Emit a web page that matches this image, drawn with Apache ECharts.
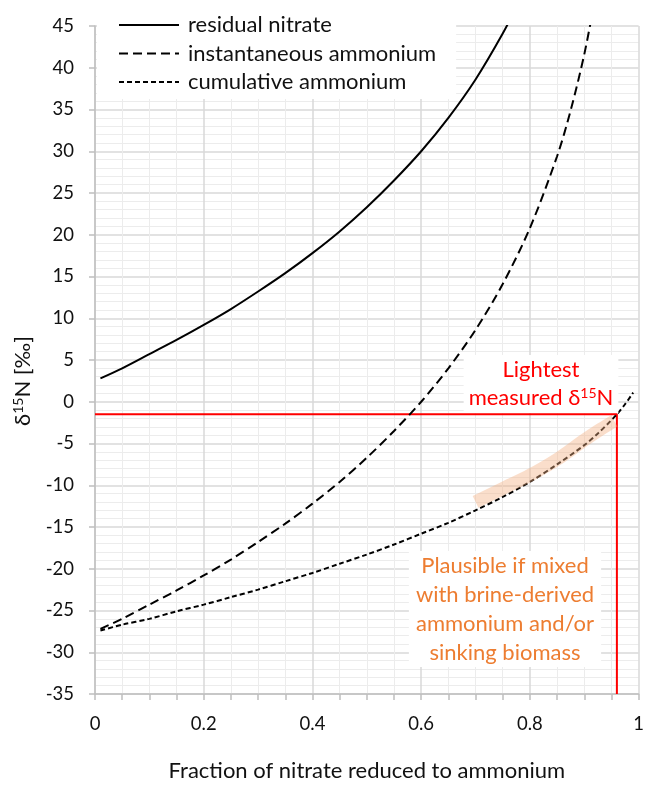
<!DOCTYPE html>
<html>
<head>
<meta charset="utf-8">
<script src="https://cdn.jsdelivr.net/npm/echarts@6/dist/echarts.min.js"></script>
<style>html,body{margin:0;padding:0;background:#fff}#c{width:647px;height:787px}</style>
</head>
<body>
<div id="c"></div>
<script>
// Data
var residualX = [0.01,0.05,0.1,0.15,0.2,0.25,0.3,0.35,0.4,0.45,0.5,0.55,0.6,0.65,0.7,0.75,0.78];
var residualY = [2.8,4.0,5.7,7.4,9.2,11.1,13.2,15.4,17.8,20.4,23.3,26.5,30.0,34.0,38.6,44.1,47.9];
var instX = [0.01,0.05,0.1,0.15,0.2,0.25,0.3,0.35,0.4,0.45,0.5,0.55,0.6,0.65,0.7,0.75,0.8,0.85,0.875,0.9,0.92];
var instY = [-27.2,-26.0,-24.3,-22.6,-20.8,-18.9,-16.8,-14.6,-12.2,-9.6,-6.7,-3.5,0.0,4.0,8.6,14.1,20.8,29.4,34.9,41.6,48.3];
var cumX = [0.01,0.05,0.1,0.15,0.2,0.25,0.3,0.35,0.4,0.45,0.5,0.55,0.6,0.65,0.7,0.75,0.8,0.85,0.9,0.925,0.95,0.96,0.975,0.99];
var cumY = [-27.4,-26.7,-26.0,-25.1,-24.3,-23.4,-22.5,-21.5,-20.5,-19.4,-18.3,-17.1,-15.8,-14.5,-13.0,-11.4,-9.6,-7.5,-5.2,-3.8,-2.2,-1.5,-0.3,1.1];
var bandX = [0.70,0.75,0.80,0.85,0.90,0.93,0.955];
var bandY = [-12.0,-10.4,-8.8,-6.9,-4.6,-3.3,-2.3];
var lightX = [0, 0.96, 0.96];
var lightY = [-1.5, -1.5, -35];
var seriesNames = ['residual nitrate', 'instantaneous ammonium', 'cumulative ammonium'];
var xName = 'Fraction of nitrate reduced to ammonium';

function pairs(xs, ys) { return xs.map(function (x, i) { return [x, ys[i]]; }); }

var FONT = 'Lato';
var chart = echarts.init(document.getElementById('c'), null, {renderer: 'canvas'});
chart.setOption({
  animation: false,
  backgroundColor: '#fff',
  textStyle: {fontFamily: FONT},
  grid: {left: 95, right: 7, top: 26, bottom: 87, containLabel: false},
  legend: {
    data: seriesNames,
    orient: 'vertical',
    left: 97, top: 0,
    padding: [14, 20, 6, 21],
    backgroundColor: '#fff',
    itemWidth: 60, itemHeight: 20, itemGap: 6.5,
    itemStyle: {opacity: 0, color: 'rgba(0,0,0,0)', borderWidth: 0},
    textStyle: {fontFamily: FONT, fontSize: 22, color: '#111', padding: [0, 0, 0, 4]},
    selectedMode: false
  },
  xAxis: {
    type: 'value', min: 0, max: 1, interval: 0.2,
    name: xName, nameLocation: 'middle', nameGap: 66,
    nameTextStyle: {fontFamily: FONT, fontSize: 22, color: '#111'},
    axisLine: {show: true, onZero: false, lineStyle: {color: '#bfbfbf', width: 1.5}},
    axisTick: {show: true, length: 6, lineStyle: {color: '#bfbfbf', width: 1.5}},
    minorTick: {show: true, splitNumber: 4, length: 6, lineStyle: {color: '#bfbfbf', width: 1.5}},
    axisLabel: {margin: 21, fontSize: 18.5, color: '#111', fontFamily: FONT},
    splitLine: {show: true, lineStyle: {color: '#d9d9d9', width: 1.5}},
    minorSplitLine: {show: true, lineStyle: {color: '#ececec', width: 1}}
  },
  yAxis: {
    type: 'value', min: -35, max: 45, interval: 5,
    axisLine: {show: true, onZero: false, lineStyle: {color: '#bfbfbf', width: 1.5}},
    axisTick: {show: true, length: 6, lineStyle: {color: '#bfbfbf', width: 1.5}},
    minorTick: {show: false, splitNumber: 5},
    axisLabel: {margin: 21, fontSize: 18.5, color: '#111', fontFamily: FONT},
    splitLine: {show: true, lineStyle: {color: '#d9d9d9', width: 1.5}},
    minorSplitLine: {show: true, lineStyle: {color: '#ececec', width: 1}}
  },
  graphic: [
    {
      type: 'text', x: 23, y: 381, rotation: Math.PI / 2, z: 10,
      style: {
        text: 'δ{sup|15}N [‰]', fill: '#111', font: '22px ' + FONT,
        align: 'center', verticalAlign: 'middle',
        rich: {sup: {fontSize: 14, fontFamily: FONT, fill: '#111', padding: [0,0,9,0]}}
      }
    },
    {
      type: 'text', x: 541, y: 384, z: 10,
      style: {
        text: 'Lightest\nmeasured δ{sup|15}N', fill: '#ff0000', font: '22px ' + FONT,
        align: 'center', verticalAlign: 'middle', lineHeight: 28,
        backgroundColor: '#fff', padding: [1, 5, 1, 5],
        rich: {sup: {fontSize: 14, fontFamily: FONT, fill: '#ff0000', lineHeight: 28, padding: [0,0,9,0]}}
      }
    },
    {
      type: 'text', x: 505, y: 609, z: 10,
      style: {
        text: 'Plausible if mixed\nwith brine-derived\nammonium and/or\nsinking biomass',
        fill: '#ed7d31', font: '22px ' + FONT,
        align: 'center', verticalAlign: 'middle', lineHeight: 29,
        backgroundColor: '#fff', padding: [0, 7, 0, 7]
      }
    }
  ],
  series: [
    {
      name: seriesNames[0], type: 'line', data: pairs(residualX, residualY),
      smooth: 0.3, showSymbol: false, symbol: 'none', clip: true, z: 3,
      lineStyle: {color: '#000', width: 2, type: 'solid'}, itemStyle: {color: '#000'}
    },
    {
      name: seriesNames[1], type: 'line', data: pairs(instX, instY),
      smooth: 0.3, showSymbol: false, symbol: 'none', clip: true, z: 3,
      lineStyle: {color: '#000', width: 2, type: [9, 5]}, itemStyle: {color: '#000'}
    },
    {
      name: seriesNames[2], type: 'line', data: pairs(cumX, cumY),
      smooth: 0.3, showSymbol: false, symbol: 'none', clip: true, z: 3,
      lineStyle: {color: '#000', width: 2, type: [5, 3]}, itemStyle: {color: '#000'}
    },
    {
      name: 'band', type: 'line', data: pairs(bandX, bandY),
      smooth: 0.3, showSymbol: false, symbol: 'none', z: 4, silent: true,
      lineStyle: {color: '#f4b183', width: 13, opacity: 0.42, cap: 'butt', join: 'round'}
    },
    {
      name: 'lightest', type: 'line', data: pairs(lightX, lightY),
      showSymbol: false, symbol: 'none', z: 2, silent: true,
      lineStyle: {color: '#ff0000', width: 2}
    }
  ]
});
</script>
</body>
</html>
